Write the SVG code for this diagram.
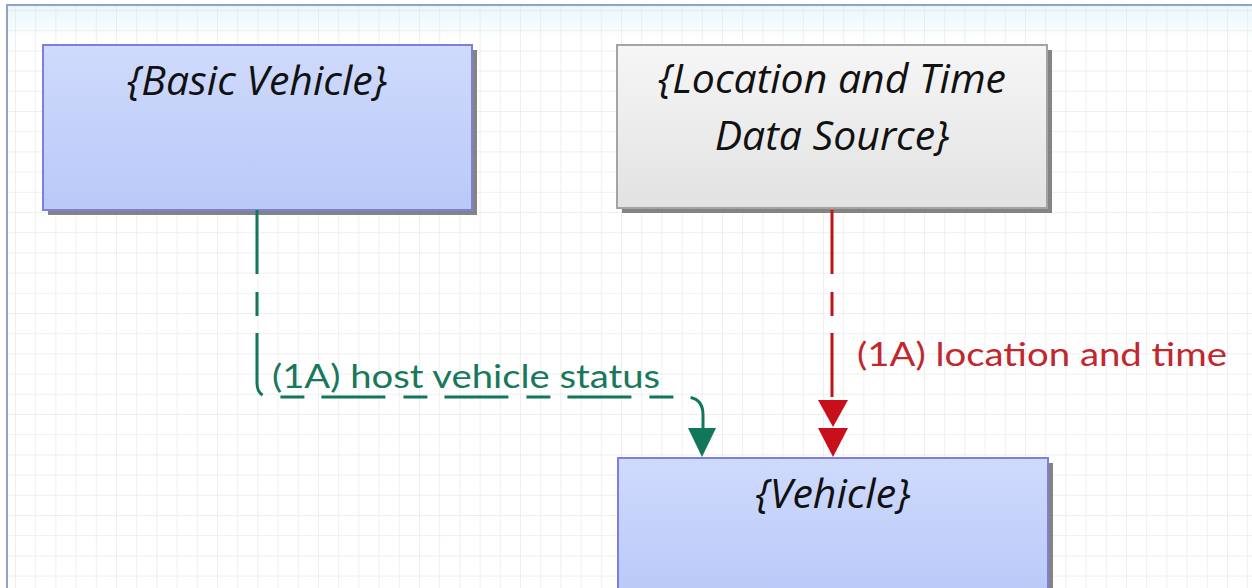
<svg xmlns="http://www.w3.org/2000/svg" width="1252" height="588" viewBox="0 0 1252 588">
  <style>
    .lbl { font-family: "Open Sans", "Noto Sans", "Liberation Sans", sans-serif; font-style: italic; font-size: 41px; fill: #111; text-anchor: middle; }
    .flow { font-family: Lato, "Open Sans", "Liberation Sans", sans-serif; font-size: 32px; }
    .shadow { fill: #6e6e6e; opacity: 0.85; }
    .conn { fill: none; stroke-width: 3; stroke-dasharray: 64 18 24 17; }
  </style>
  <defs>
    <pattern id="grid" x="15" y="10" width="20.2" height="20.2" patternUnits="userSpaceOnUse">
      <path d="M0 0 H20.2 M0 0 V20.2" fill="none" stroke="#e0e0e0" stroke-width="1"/>
    </pattern>
    <linearGradient id="bg" x1="0" y1="0" x2="0" y2="1">
      <stop offset="0" stop-color="#e8f6fc"/>
      <stop offset="0.06" stop-color="#ffffff"/>
      <stop offset="1" stop-color="#ffffff"/>
    </linearGradient>
    <linearGradient id="blue" x1="0" y1="0" x2="0" y2="1">
      <stop offset="0" stop-color="#cfdafc"/>
      <stop offset="1" stop-color="#b9c9f8"/>
    </linearGradient>
    <linearGradient id="gray" x1="0" y1="0" x2="0" y2="1">
      <stop offset="0" stop-color="#f6f6f6"/>
      <stop offset="1" stop-color="#e2e2e2"/>
    </linearGradient>
  </defs>

  <rect x="0" y="0" width="1252" height="588" fill="#ffffff"/>
  <rect x="7" y="5" width="1250" height="590" fill="url(#bg)"/>
  <rect x="7" y="5" width="1250" height="590" fill="url(#grid)"/>
  <path d="M7 595 V5 H1252" fill="none" stroke="#8fa5c2" stroke-width="2"/>

  <g id="node-basic-vehicle">
    <rect class="shadow" x="48" y="50" width="429" height="165"/>
    <rect x="43" y="45" width="429" height="165" fill="url(#blue)" stroke="#7c80dc" stroke-width="2"/>
    <text class="lbl" x="257" y="95">{Basic Vehicle}</text>
  </g>

  <g id="node-location-time">
    <rect class="shadow" x="622" y="50" width="430" height="163"/>
    <rect x="617" y="45" width="430" height="163" fill="url(#gray)" stroke="#a4a4a4" stroke-width="2"/>
    <text class="lbl" x="832" y="93">{Location and Time</text>
    <text class="lbl" x="832" y="150">Data Source}</text>
  </g>

  <g id="node-vehicle">
    <rect class="shadow" x="623" y="463" width="430" height="140"/>
    <rect x="618" y="458" width="430" height="140" fill="url(#blue)" stroke="#7c80dc" stroke-width="2"/>
    <text class="lbl" x="833" y="508">{Vehicle}</text>
  </g>

  <g id="connectors">
    <path class="conn" stroke="#12775a" d="M257 210 V383 Q257 397 271 397 H685 Q703 397 703 415 V432"/>
    <polygon fill="#12775a" points="688,428 716,428 702,457"/>
    <text class="flow" fill="#17785c" x="272" y="388" textLength="388" lengthAdjust="spacingAndGlyphs">(1A) host vehicle status</text>

    <path class="conn" stroke="#c0141c" d="M832 210 V404"/>
    <polygon fill="#c8101a" points="818,400 848,400 833,427"/>
    <polygon fill="#c8101a" points="818,428 848,428 833,457"/>
    <text class="flow" fill="#c0282d" x="857" y="366" textLength="370" lengthAdjust="spacingAndGlyphs">(1A) location and time</text>
  </g>
</svg>
